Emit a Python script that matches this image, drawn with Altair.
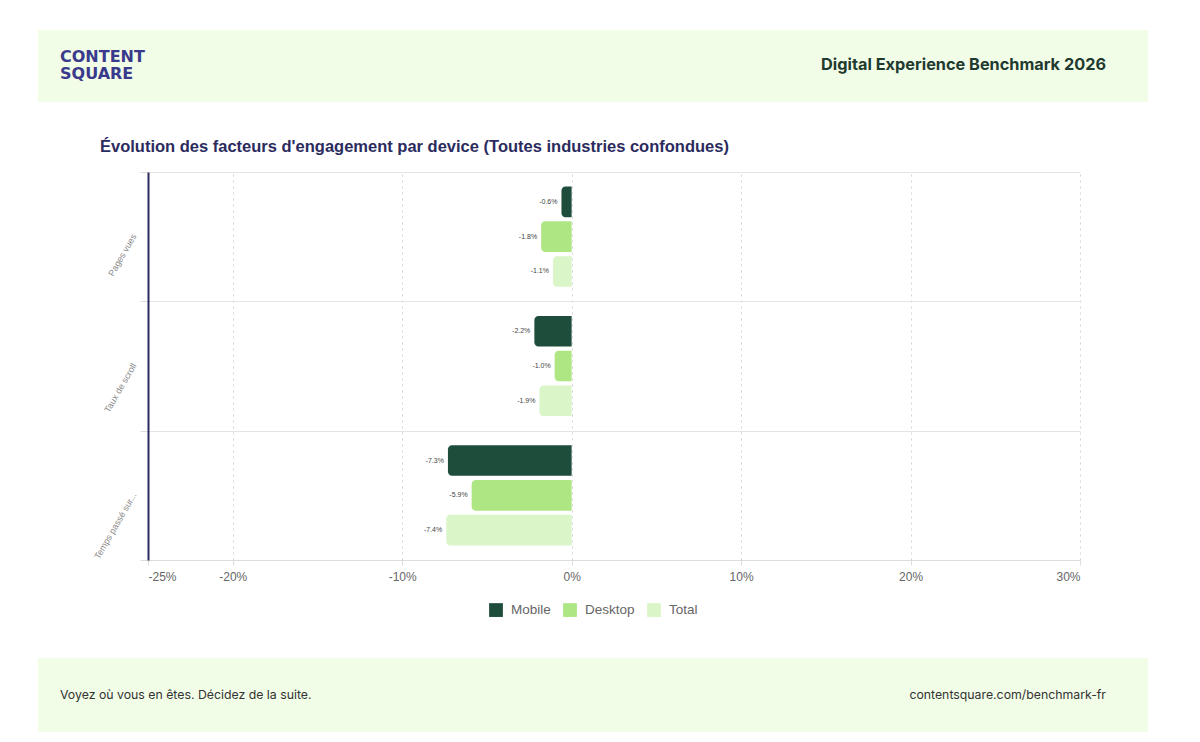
import altair as alt
import pandas as pd

categories = ["Pages vues", "Taux de scroll", "Temps passé sur..."]
devices = ["Mobile", "Desktop", "Total"]
mobile = [-0.6, -2.2, -7.3]
desktop = [-1.8, -1.0, -5.9]
total = [-1.1, -1.9, -7.4]
x_ticks = [-25, -20, -10, 0, 10, 20, 30]
colors = ["#1e4d3b", "#aee684", "#daf6c8"]

rows = []
for i, c in enumerate(categories):
    for d, vals in zip(devices, [mobile, desktop, total]):
        rows.append({"category": c, "device": d, "value": vals[i]})
df = pd.DataFrame(rows)

W, H = 932, 388
FONT = "Liberation Sans"

y_enc = alt.Y("category:N", sort=categories, title=None,
              scale=alt.Scale(paddingInner=0, paddingOuter=0),
              axis=alt.Axis(tickBand="extent", domainColor="#2b2b5e", domainWidth=2,
                            labelAngle=300, labelFontSize=9, labelColor="#8a8a8a",
                            labelFont=FONT, tickColor="#dddddd", tickSize=8,
                            labelPadding=2, grid=True, gridColor="#e4e4e4",
                            gridDash=[], labelLimit=120))
yoff = alt.YOffset("device:N", sort=devices,
                   scale=alt.Scale(paddingInner=0.12, paddingOuter=0.42))
x_enc = alt.X("value:Q", title=None,
              scale=alt.Scale(domain=[-25, 30], nice=False, zero=False),
              axis=alt.Axis(values=x_ticks, labelExpr="datum.value + '%'",
                            labelFontSize=12, labelColor="#666666", labelFont=FONT,
                            domainColor="#dddddd", tickColor="#dddddd", tickSize=5,
                            labelPadding=6, grid=True, gridColor="#d4d4d4",
                            gridDash=[2, 4]))

bars = alt.Chart(df).mark_bar(cornerRadiusTopLeft=4, cornerRadiusBottomLeft=4).encode(
    x=x_enc,
    x2=alt.datum(0),
    y=y_enc,
    yOffset=yoff,
    color=alt.Color("device:N", sort=devices,
                    scale=alt.Scale(domain=devices, range=colors),
                    legend=alt.Legend(title=None, orient="none", direction="horizontal",
                                      legendX=341, legendY=431, symbolType="square",
                                      symbolSize=190, symbolStrokeWidth=0,
                                      labelFontSize=13.5, labelColor="#666666",
                                      labelFont=FONT, columnPadding=12, labelOffset=8)),
)

labels = alt.Chart(df).transform_calculate(
    label="(datum.value < 0 ? '-' : '') + format(abs(datum.value), '.1f') + '%'"
).mark_text(align="right", baseline="middle", dx=-4, fontSize=7, color="#444444",
            font=FONT).encode(
    x=alt.X("value:Q"),
    y=alt.Y("category:N", sort=categories),
    yOffset=alt.YOffset("device:N", sort=devices),
    text="label:N",
)

one = pd.DataFrame({"k": [0]})

def band(y0, y1):
    return alt.Chart(one).mark_rect(color="#f2fde8").encode(
        x=alt.value(-110), x2=alt.value(1000), y=alt.value(y0), y2=alt.value(y1))

def txt(s, x, y, size, color, align="left", weight="normal", font="Inter"):
    return alt.Chart(pd.DataFrame({"t": [s]})).mark_text(
        align=align, baseline="alphabetic", fontSize=size, color=color,
        fontWeight=weight, font=font).encode(
        x=alt.value(x), y=alt.value(y), text="t:N")

header = band(-142, -70)
footer = band(486, 560)
logo1 = txt("CONTENT", -88, -110, 16, "#3a3a8c", weight="bold", font="DejaVu Sans")
logo2 = txt("SQUARE", -88, -93, 16, "#3a3a8c", weight="bold", font="DejaVu Sans")
head_r = txt("Digital Experience Benchmark 2026", 958, -102, 16.3, "#1f3a2f",
             align="right", weight="bold")
title = txt("Évolution des facteurs d'engagement par device (Toutes industries confondues)",
            -48, -20, 16.5, "#2b2b5e", weight="bold", font=FONT)
foot_l = txt("Voyez où vous en êtes. Décidez de la suite.", -88, 527, 12.3, "#333333")
foot_r = txt("contentsquare.com/benchmark-fr", 958, 527, 12.3, "#333333", align="right")

chart = alt.layer(header, footer, bars, labels, logo1, logo2, head_r, title,
                  foot_l, foot_r).properties(
    width=W, height=H,
    padding={"left": 148, "top": 172, "right": 120, "bottom": 182},
    autosize=alt.AutoSizeParams(type="none"),
    background="white",
).configure_view(stroke=None)

chart.save("out.html", embed_options={"renderer": "svg", "actions": False})
